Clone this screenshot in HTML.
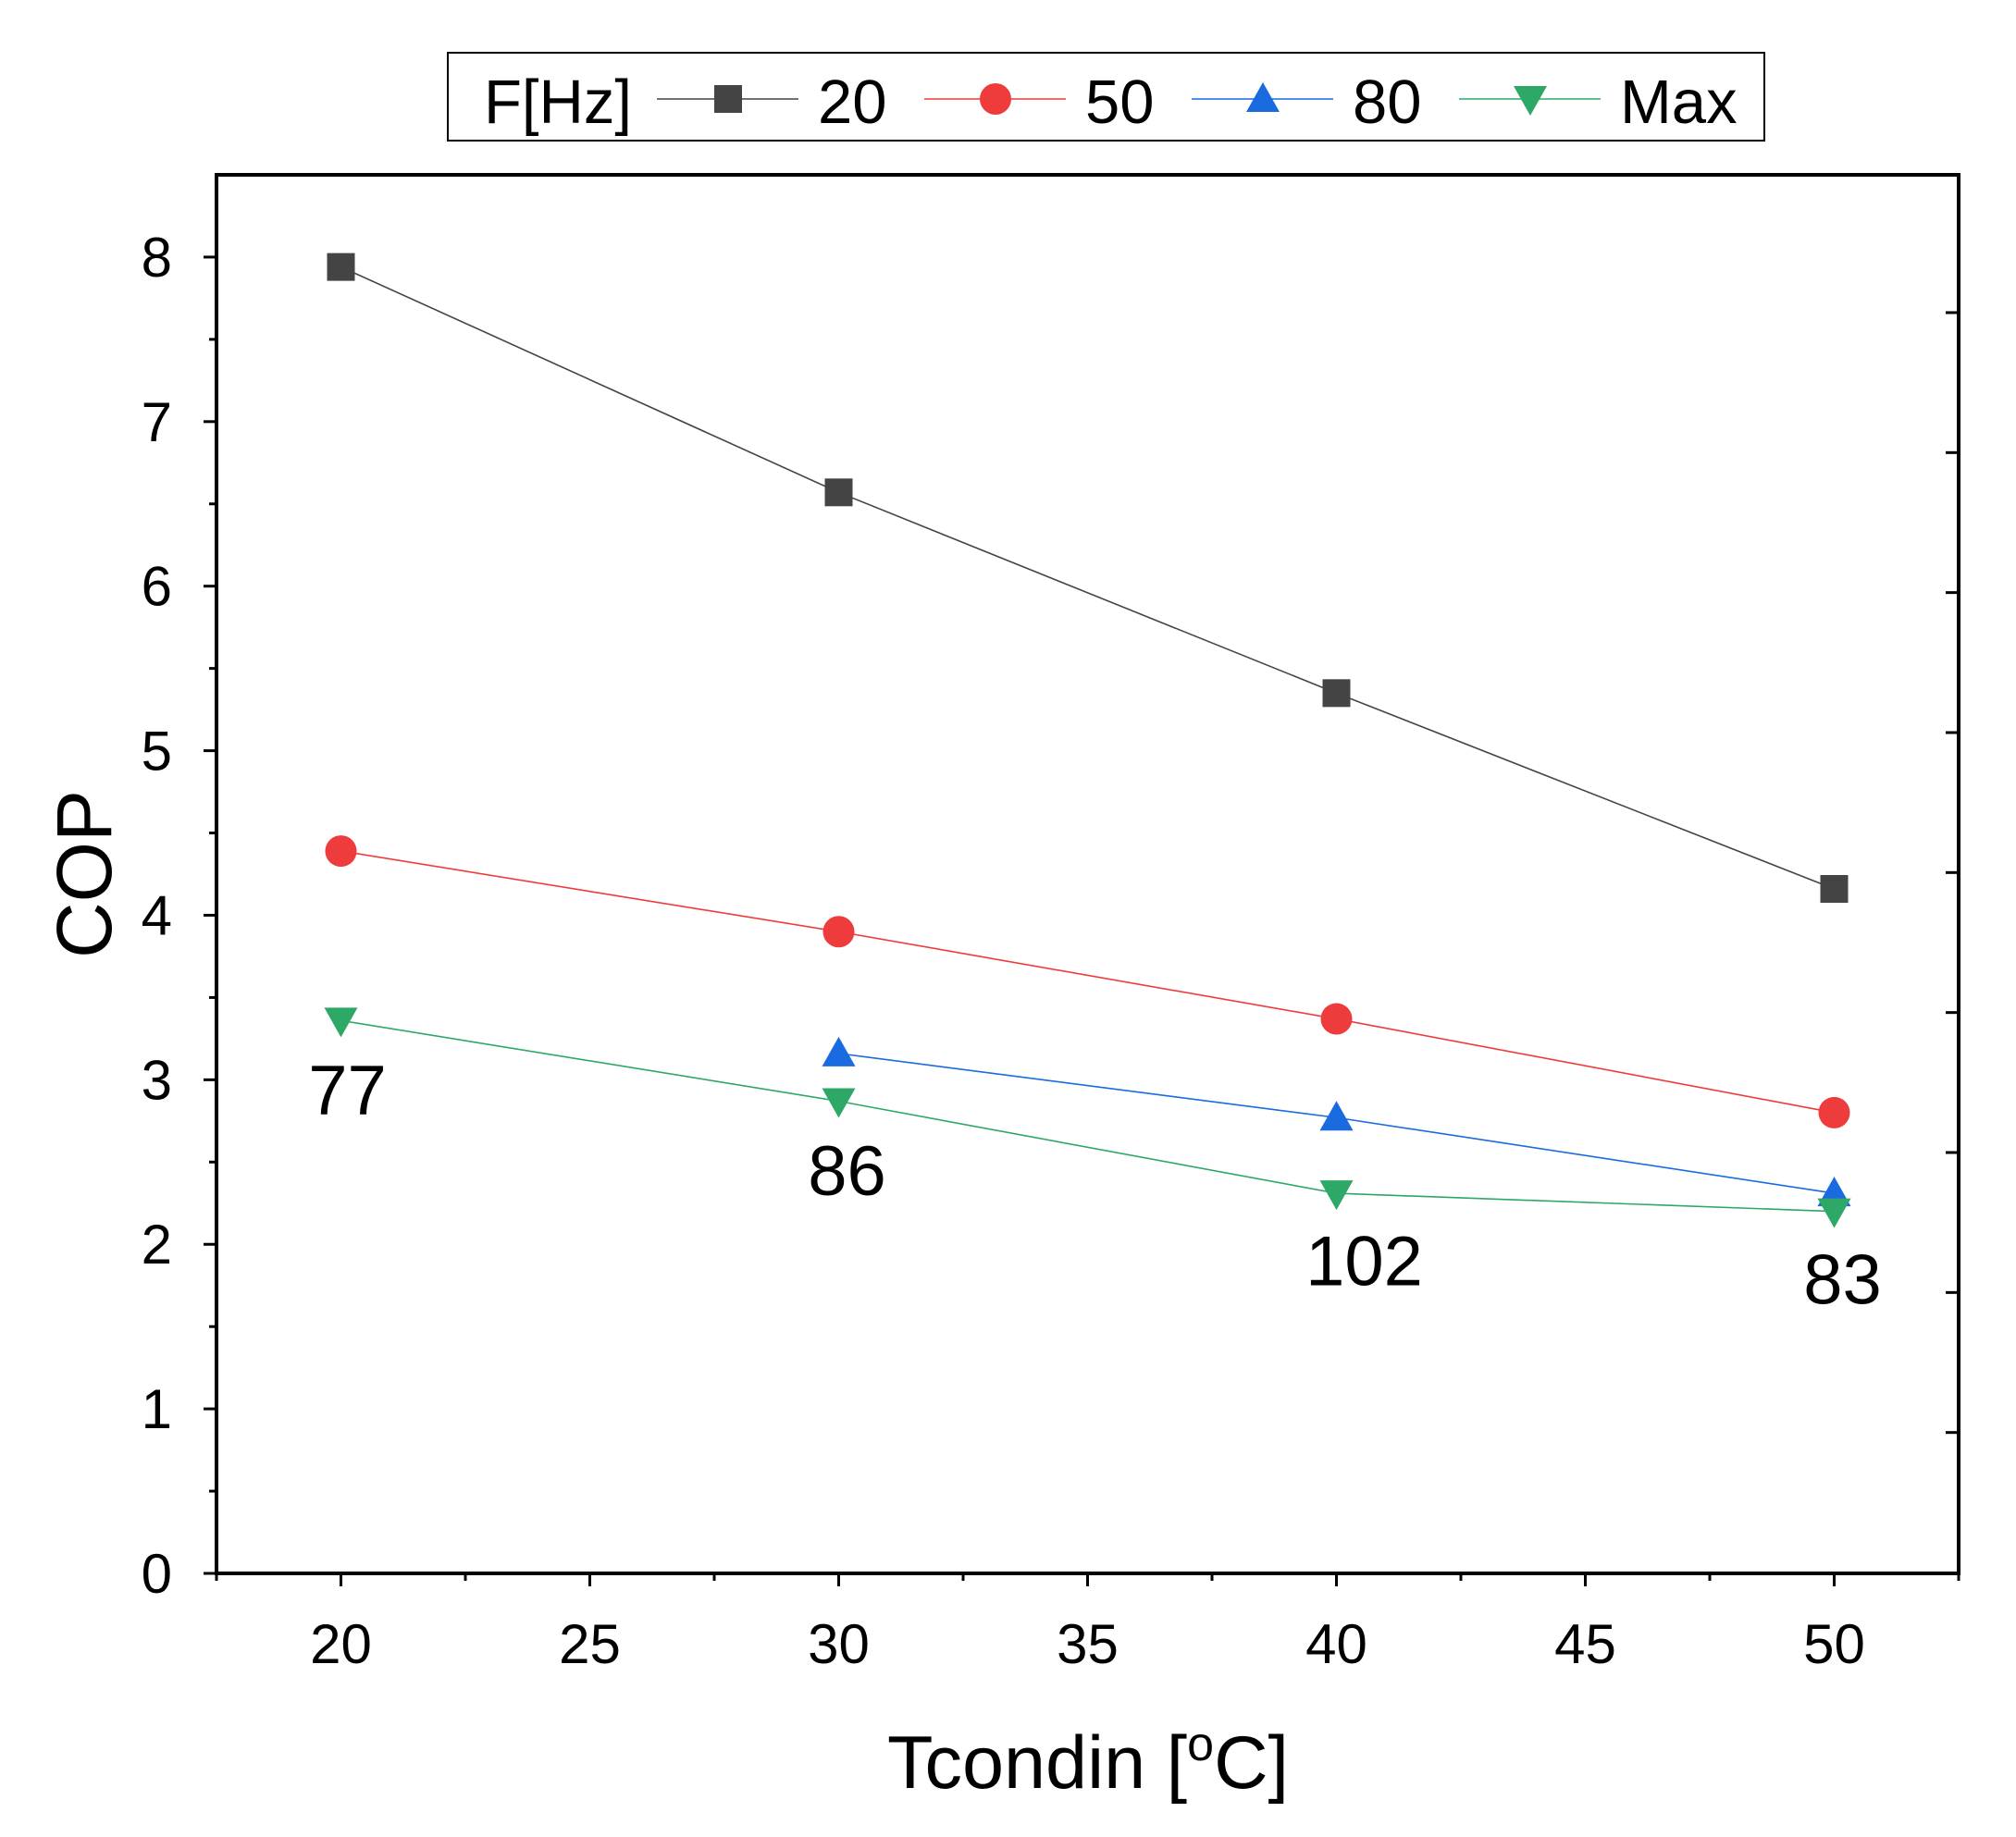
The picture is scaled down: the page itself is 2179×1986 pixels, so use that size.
<!DOCTYPE html>
<html><head><meta charset="utf-8"><style>body{margin:0;background:#fff}svg{display:block;font-family:"Liberation Sans",Arial,sans-serif}</style></head>
<body>
<svg id="chart" width="2179" height="1986" viewBox="0 0 2179 1986"></svg>
<script>
const xValues=[20,30,40,50];
const s20=[7.94,6.57,5.35,4.16];
const s50=[4.39,3.90,3.37,2.80];
const s80x=[30,40,50];
const s80=[3.16,2.77,2.31];
const sMax=[3.36,2.87,2.31,2.20];
const maxLabels=["77","86","102","83"];
const xTicks=[20,25,30,35,40,45,50];
const yTicks=[0,1,2,3,4,5,6,7,8];
const L=234,R=2117,T=189,B=1701,X0=17.5,X1=52.5,Y0=0,Y1=8.5;
const sx=v=>L+(v-X0)/(X1-X0)*(R-L);
const sy=v=>B-(v-Y0)/(Y1-Y0)*(B-T);
const svg=document.getElementById('chart');
const NS='http://www.w3.org/2000/svg';
function mk(tag,a,txt){const e=document.createElementNS(NS,tag);for(const k in a)e.setAttribute(k,a[k]);if(txt!==undefined)e.textContent=txt;svg.appendChild(e);return e;}
function marker(type,x,y,color,name){let e;
 if(type==='sq')e=mk('rect',{x:x-15,y:y-15,width:30,height:30,fill:color});
 else if(type==='ci')e=mk('circle',{cx:x,cy:y,r:17,fill:color});
 else if(type==='up')e=mk('polygon',{points:`${x},${y-18} ${x-18},${y+14} ${x+18},${y+14}`,fill:color});
 else e=mk('polygon',{points:`${x},${y+18} ${x-18},${y-14} ${x+18},${y-14}`,fill:color});
 
 return e;}
function series(xs,ys,color,type,name){
 const l=mk('polyline',{points:xs.map((v,i)=>sx(v)+','+sy(ys[i])).join(' '),fill:'none',stroke:color,'stroke-width':1.6});
 
 
 xs.forEach((v,i)=>marker(type,sx(v),sy(ys[i]),color,name+'-point'));}
const fr=mk('rect',{x:L,y:T,width:R-L,height:B-T,fill:'none',stroke:'#000','stroke-width':4});


yTicks.forEach(v=>{const y=sy(v);mk('line',{x1:L-14,x2:L,y1:y,y2:y,stroke:'#000','stroke-width':3});
 const t=mk('text',{x:L-48,y:y+21,'font-size':60,'text-anchor':'end'},v);
 
 
 if(v<8){const m=sy(v+0.5);mk('line',{x1:L-8,x2:L,y1:m,y2:m,stroke:'#000','stroke-width':3});}});
xTicks.forEach(v=>{const x=sx(v);mk('line',{x1:x,x2:x,y1:B,y2:B+14,stroke:'#000','stroke-width':3});
 const t=mk('text',{x:x,y:B+97,'font-size':60,'text-anchor':'middle'},v);
 
 });
[17.5,22.5,27.5,32.5,37.5,42.5,47.5,52.5].forEach(v=>{const x=sx(v);mk('line',{x1:x,x2:x,y1:B,y2:B+8,stroke:'#000','stroke-width':3});});
for(let i=1;i<=9;i++){const y=T+(B-T)*(243-136+(i-1)*108.7)/1086;mk('line',{x1:R-14,x2:R,y1:y,y2:y,stroke:'#000','stroke-width':3});}
let t=mk('text',{x:1176,y:1933,'font-size':81,'text-anchor':'middle'});
t.innerHTML='Tcondin [<tspan dy="-30" font-size="52">o</tspan><tspan dy="30">C]</tspan>';


t=mk('text',{x:0,y:0,'font-size':84,'text-anchor':'middle',transform:`translate(120,${(T+B)/2}) rotate(-90)`},'COP');


series(xValues,s20,'#444444','sq','series-20hz');
series(xValues,s50,'#ee3b3b','ci','series-50hz');
series(s80x,s80,'#1a6ae0','up','series-80hz');
series(xValues,sMax,'#2ea866','dn','series-max');
const labOff=[[7,-0.57],[9,-0.57],[30,-0.56],[9,-0.56]];
maxLabels.forEach((s,i)=>{const tt=mk('text',{x:sx(xValues[i])+labOff[i][0],y:sy(sMax[i]+labOff[i][1]),'font-size':76,'text-anchor':'middle'},s);
 
 });
const lg=mk('rect',{x:484,y:57,width:1423,height:95,fill:'#fff',stroke:'#000','stroke-width':2});


t=mk('text',{x:523,y:133,'font-size':67},'F[Hz]');


const leg=[[710,'#444444','sq','20'],[999,'#ee3b3b','ci','50'],[1288,'#1a6ae0','up','80'],[1577,'#2ea866','dn','Max']];
leg.forEach(([x,c,ty,s])=>{mk('line',{x1:x,x2:x+153,y1:107,y2:107,stroke:c,'stroke-width':1.6});
 marker(ty,x+77,107,c,'legend-marker');
 const tx=mk('text',{x:x+174,y:133,'font-size':67},s);
 
 });
</script>
</body></html>
